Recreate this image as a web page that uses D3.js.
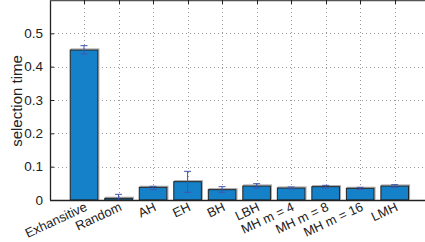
<!DOCTYPE html>
<html>
<head>
<meta charset="utf-8">
<script src="https://cdn.jsdelivr.net/npm/d3@7"></script>
<style>
  body { margin: 0; background: #fff; }
  text { font-family: "Liberation Sans", Arial, sans-serif; fill: #222; }
</style>
</head>
<body>
<div id="chart"></div>
<script>
const methods = ["Exhansitive", "Random", "AH", "EH", "BH", "LBH", "MH m = 4", "MH m = 8", "MH m = 16", "LMH"];
const meanTime = [0.450, 0.005, 0.038, 0.055, 0.031, 0.042, 0.036, 0.040, 0.035, 0.042];
const errLow = [0.438, -0.01, 0.031, 0.023, 0.023, 0.036, 0.033, 0.036, 0.032, 0.038];
const errHigh = [0.463, 0.017, 0.041, 0.086, 0.040, 0.049, 0.039, 0.044, 0.038, 0.046];
const yTicks = [0, 0.1, 0.2, 0.3, 0.4, 0.5];

const W = 425, H = 242;
const margin = { left: 50, top: 0, bottom: 200 };
const step = 34.52;

const svg = d3.select("#chart").append("svg")
  .attr("width", W)
  .attr("height", H);

const x = d3.scaleLinear().domain([0, 11]).range([margin.left - 0.5, margin.left - 0.5 + 11 * step]);
const y = d3.scaleLinear().domain([0, 0.6]).range([margin.bottom, margin.top]);
const barW = 0.8 * step;

// grid lines (dotted)
svg.append("g")
  .selectAll("line")
  .data(yTicks.slice(1))
  .join("line")
  .attr("x1", margin.left).attr("x2", W)
  .attr("y1", d => Math.round(y(d)) + 0.5).attr("y2", d => Math.round(y(d)) + 0.5)
  .attr("stroke", "#999").attr("stroke-dasharray", "1,3");

svg.append("g")
  .selectAll("line")
  .data(methods)
  .join("line")
  .attr("x1", (d, i) => Math.round(x(i + 1)) + 0.5).attr("x2", (d, i) => Math.round(x(i + 1)) + 0.5)
  .attr("y1", margin.top).attr("y2", margin.bottom)
  .attr("stroke", "#999").attr("stroke-dasharray", "1,3");

// bars, with a faint grey shadow
svg.append("g")
  .selectAll("rect")
  .data(meanTime)
  .join("rect")
  .attr("x", (d, i) => x(i + 1) - barW / 2 + 1)
  .attr("y", d => y(d) - 1)
  .attr("width", barW)
  .attr("height", d => margin.bottom - y(d))
  .attr("fill", "none")
  .attr("stroke", "#aaa")
  .attr("stroke-width", 1.2);

svg.append("g")
  .selectAll("rect")
  .data(meanTime)
  .join("rect")
  .attr("x", (d, i) => x(i + 1) - barW / 2)
  .attr("y", d => y(d))
  .attr("width", barW)
  .attr("height", d => margin.bottom - y(d))
  .attr("fill", "#1581c9")
  .attr("stroke", "#222")
  .attr("stroke-width", 1);

// error bars
const eb = svg.append("g").attr("stroke", "#3f56b0").attr("stroke-width", 1);
methods.forEach((m, i) => {
  const cx = x(i + 1);
  const lo = Math.max(errLow[i], 0);
  eb.append("line").attr("x1", cx).attr("x2", cx).attr("y1", y(lo)).attr("y2", y(errHigh[i]));
  eb.append("line").attr("x1", cx - 3.5).attr("x2", cx + 3.5).attr("y1", y(errHigh[i])).attr("y2", y(errHigh[i]));
  if (errLow[i] > 0) {
    eb.append("line").attr("x1", cx - 3.5).attr("x2", cx + 3.5).attr("y1", y(errLow[i])).attr("y2", y(errLow[i]));
  }
});

// axes
const yAxis = svg.append("g")
  .attr("transform", `translate(${margin.left},0)`)
  .call(d3.axisLeft(y).tickValues(yTicks).tickFormat(d => d === 0 ? "0" : d3.format(".1f")(d)).tickSize(-4).tickPadding(7));
yAxis.select(".domain").remove();
yAxis.selectAll("line").attr("stroke", "#222");
yAxis.selectAll("text").attr("font-size", "13.5px").style("font-family", "Liberation Sans, Arial, sans-serif").attr("fill", "#222");

svg.append("line").attr("x1", margin.left + 0.5).attr("x2", margin.left + 0.5).attr("y1", 0).attr("y2", margin.bottom)
  .attr("stroke", "#222").attr("stroke-width", 1.3);
svg.append("line").attr("x1", margin.left).attr("x2", W).attr("y1", margin.bottom + 0.5).attr("y2", margin.bottom + 0.5)
  .attr("stroke", "#222").attr("stroke-width", 1.3);
svg.append("line").attr("x1", margin.left).attr("x2", W).attr("y1", 0.5).attr("y2", 0.5)
  .attr("stroke", "#555").attr("stroke-width", 1.3);

// top tick marks
svg.append("g")
  .selectAll("line")
  .data(methods)
  .join("line")
  .attr("x1", (d, i) => Math.round(x(i + 1)) + 0.5).attr("x2", (d, i) => Math.round(x(i + 1)) + 0.5)
  .attr("y1", 0).attr("y2", 4)
  .attr("stroke", "#222");

// rotated category labels
svg.append("g")
  .selectAll("text")
  .data(methods)
  .join("text")
  .attr("transform", (d, i) => `translate(${x(i + 1) + 4},${margin.bottom + 10}) rotate(-25)`)
  .attr("text-anchor", "end")
  .attr("font-size", "13px")
  .text(d => d);

// y label
svg.append("text")
  .attr("transform", `translate(22,101) rotate(-90)`)
  .attr("text-anchor", "middle")
  .attr("font-size", "15px")
  .text("selection time");
</script>
</body>
</html>
